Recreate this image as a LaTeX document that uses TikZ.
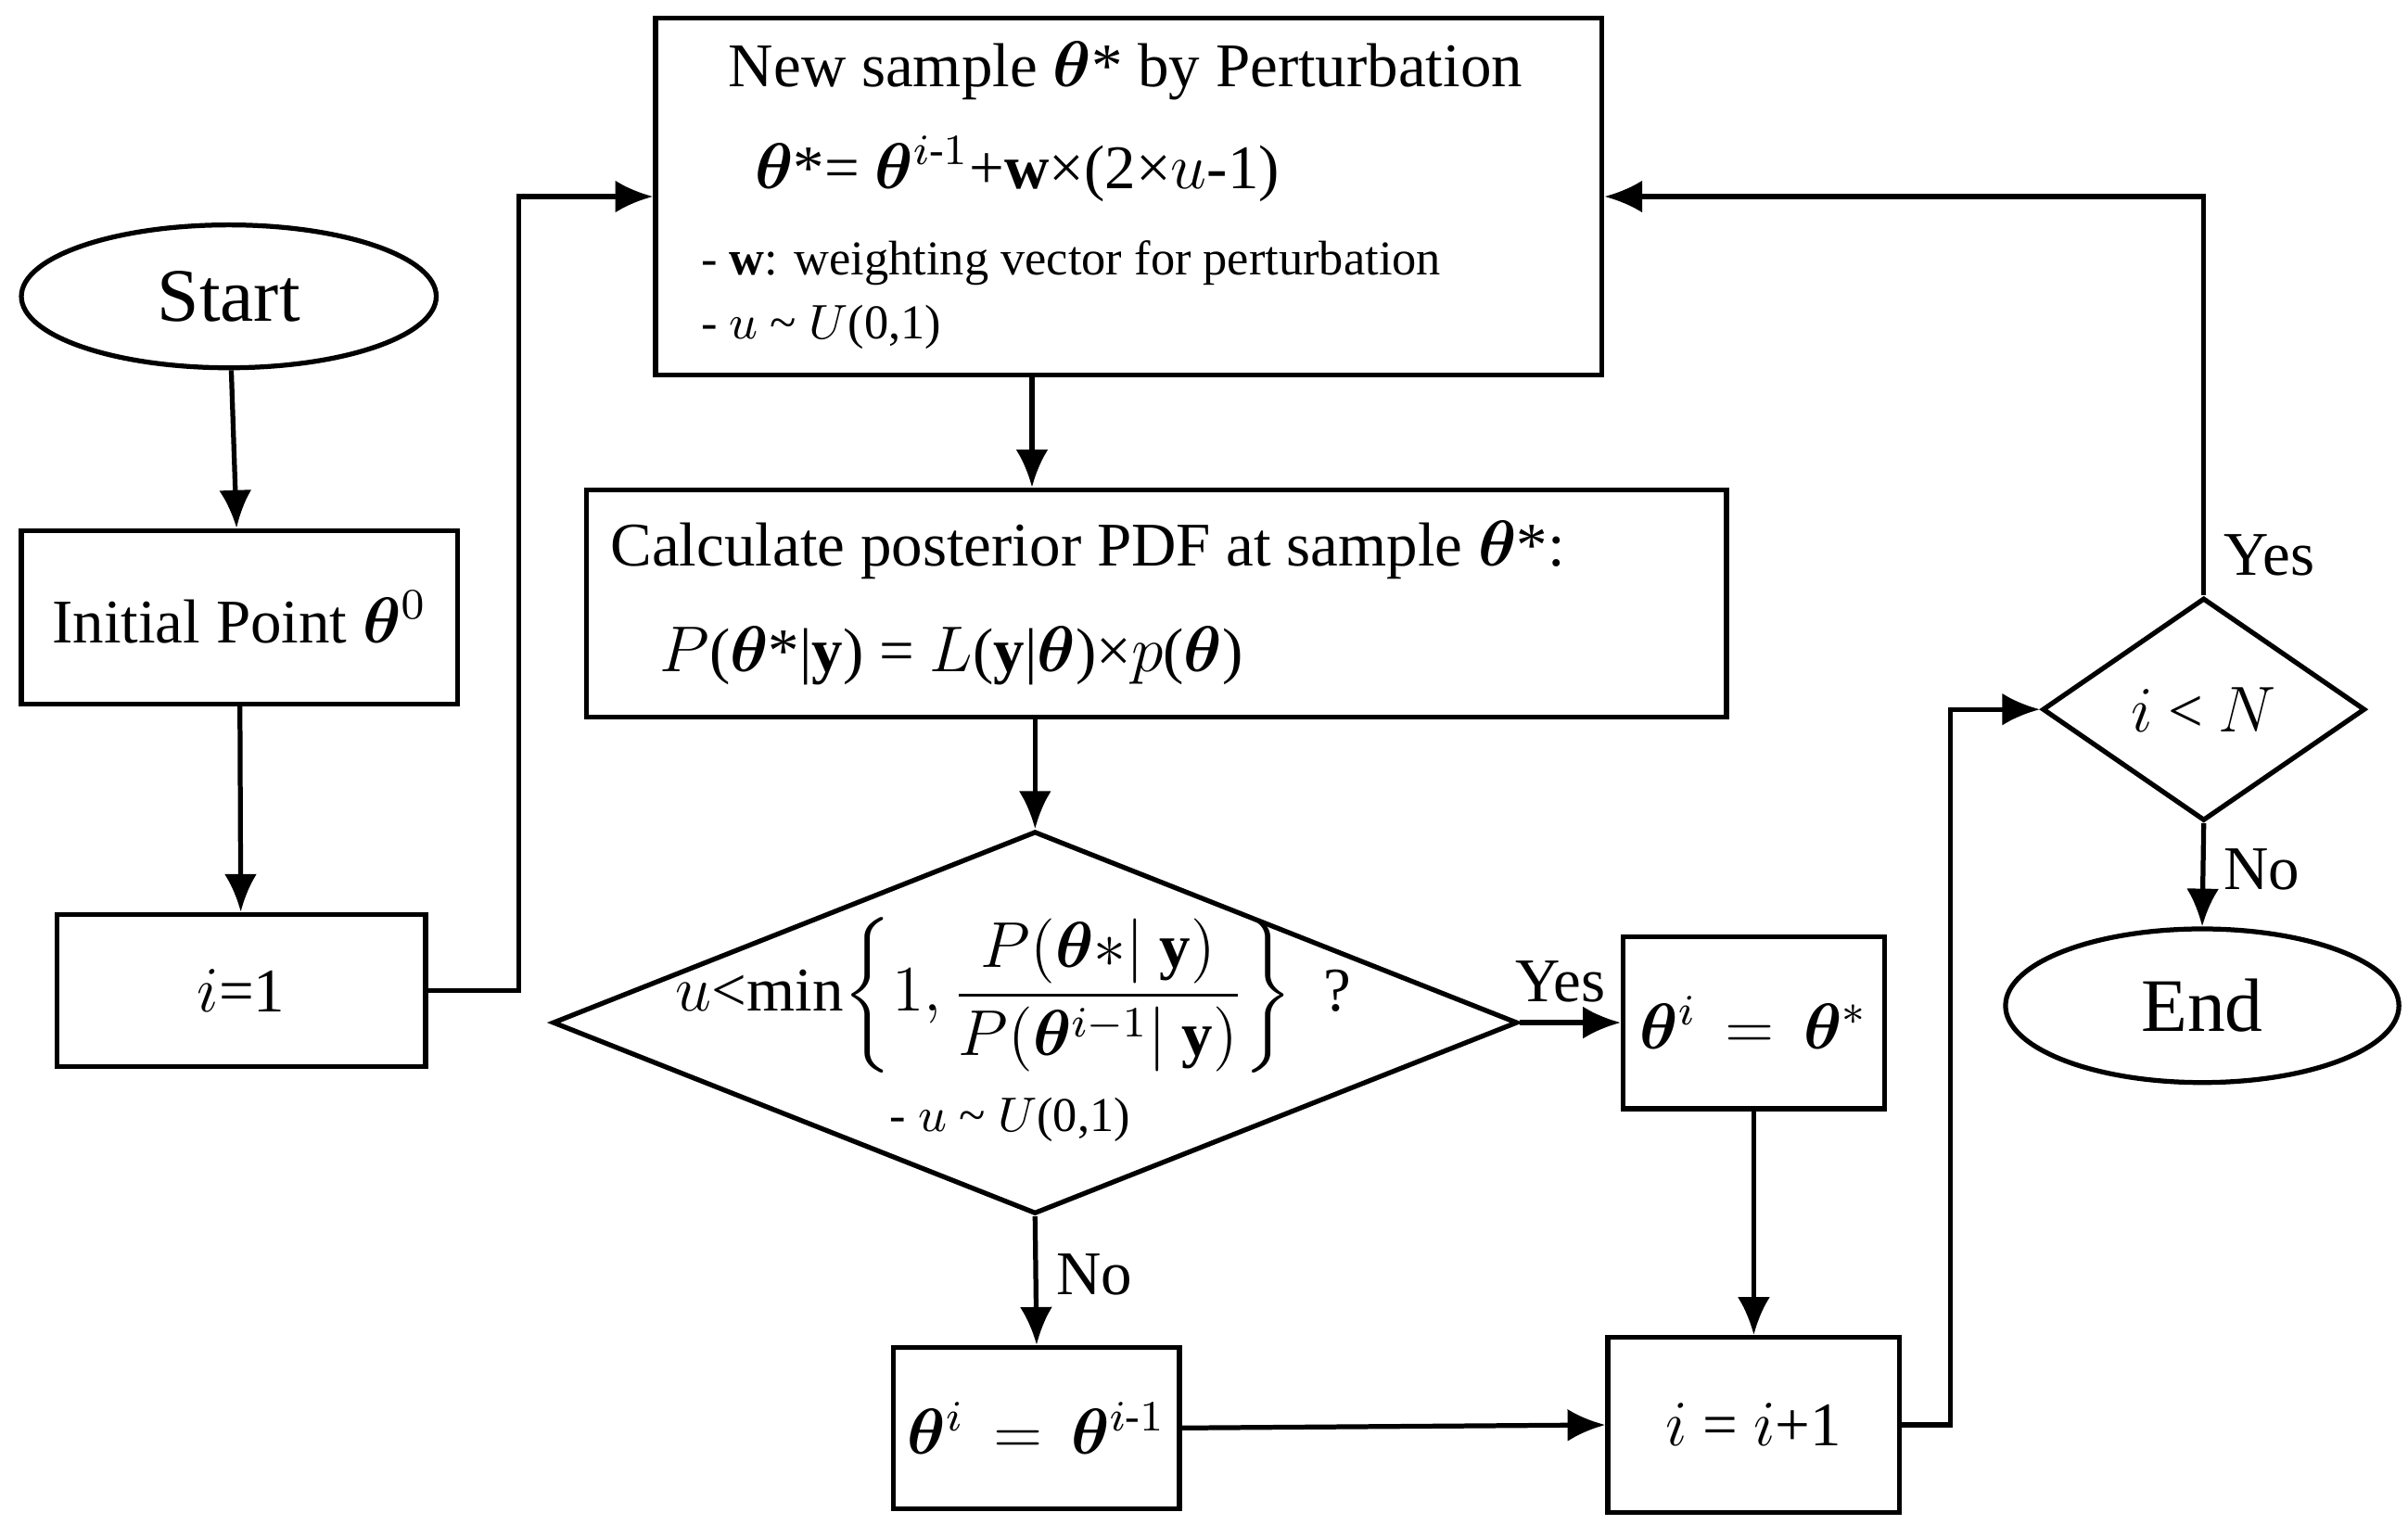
\documentclass[tikz,border=0pt]{standalone}
\usepackage{amsmath,bm}
\usepackage{fontspec}
\setmainfont{Liberation Serif}
\usetikzlibrary{shapes.geometric,arrows.meta}
\begin{document}
\begin{tikzpicture}[x=0.01cm,y=-0.01cm,
  line width=0.9pt,
  every node/.style={font=\fontsize{11.5}{13}\selectfont},
  box/.style={draw,rectangle,inner sep=0pt},
  arr/.style={-{Latex[length=7pt,width=6pt]}},
  small/.style={font=\fontsize{9}{11}\selectfont,inner sep=0pt,anchor=west}]
\useasboundingbox (0,0) rectangle (1568,993);
\newcommand{\thb}{\bm{\theta}}
\node[draw,ellipse,minimum width=270\pgflinewidth*0+2.7cm,minimum height=0.93cm,font=\fontsize{14}{16}\selectfont] (start) at (149,193) {Start};
\node[box,minimum width=2.84cm,minimum height=1.13cm] (init) at (156,402) {Initial Point $\thb^{0}$};
\node[box,minimum width=2.40cm,minimum height=0.99cm] (i1) at (157,645) {$i$=1};
\node[box,minimum width=6.16cm,minimum height=2.32cm] (new) at (735,128) {};
\node at (733,46) {New sample $\thb$* by Perturbation};
\node[anchor=west,inner sep=0pt] (f1) at (490,110) {$\thb$*= $\thb^{i\text{-}1}$+$\mathbf{w}$×(2×$u$-1)};
\node[small] (b1) at (455,171) {- $\mathbf{w}$: weighting vector for perturbation};
\node[small] (b2) at (455,213) {- $u$ \textasciitilde\ $U$(0,1)};
\node[box,minimum width=7.42cm,minimum height=1.48cm] (calc) at (753,393) {};
\node[anchor=west,inner sep=0pt] at (396,358) {Calculate posterior PDF at sample $\thb$*:};
\node[anchor=west,inner sep=0pt] at (428,427) {$P$($\thb$*|$\mathbf{y}$) = $L$($\mathbf{y}$|$\thb$)×$p$($\thb$)};
\node[draw,diamond,minimum width=6.28cm,minimum height=2.49cm,aspect=2.52,inner sep=0pt] (dec) at (674,666) {};
\node at (660,648) {$u$<min$\left\{1,\dfrac{P(\thb{*}|\ \mathbf{y})}{P(\thb^{i-1}|\ \mathbf{y})}\right\}$\ \ ?};
\node[small] at (578,729) {- $u$ \textasciitilde\ $U$(0,1)};
\node[box,minimum width=1.70cm,minimum height=1.12cm] (acc) at (1142,666) {$\thb^{i}\,=\,\thb^{*}$};
\node[box,minimum width=1.86cm,minimum height=1.05cm] (rej) at (675,930) {$\thb^{i}\,=\,\thb^{i\text{-}1}$};
\node[box,minimum width=1.90cm,minimum height=1.14cm] (inc) at (1142,928) {$i$ = $i$+1};
\node[draw,diamond,minimum width=2.10cm,minimum height=1.45cm,aspect=1.45,inner sep=0pt] (chk) at (1435,462) {$i$ < $N$};
\node[draw,ellipse,minimum width=2.56cm,minimum height=1.0cm,font=\fontsize{14}{16}\selectfont] (end) at (1434,655) {End};
\draw[arr] (start) -- (init);
\draw[arr] (init) -- (i1);
\draw[arr] (i1.east) -- (338,645) -- (338,128) -- (new.west);
\draw[arr] (new.south -| 672,0) -- (calc.north -| 672,0);
\draw[arr] (calc.south -| dec.north) -- (dec.north);
\draw[arr] (dec.east) -- node[above,pos=0.4] {Yes} (acc.west);
\draw[arr] (dec.south) -- node[right,pos=0.45] {No} (rej.north);
\draw[arr] (rej.east) -- (inc.west);
\draw[arr] (acc.south) -- (inc.north);
\draw[arr] (inc.east) -- (1270,928) -- (1270,462) -- (chk.west);
\draw[arr] (chk.north) -- node[right,pos=0.1] {Yes} (1435,128) -- (new.east);
\draw[arr] (chk.south) -- node[right,pos=0.45] {No} (end.north);
\end{tikzpicture}
\end{document}
